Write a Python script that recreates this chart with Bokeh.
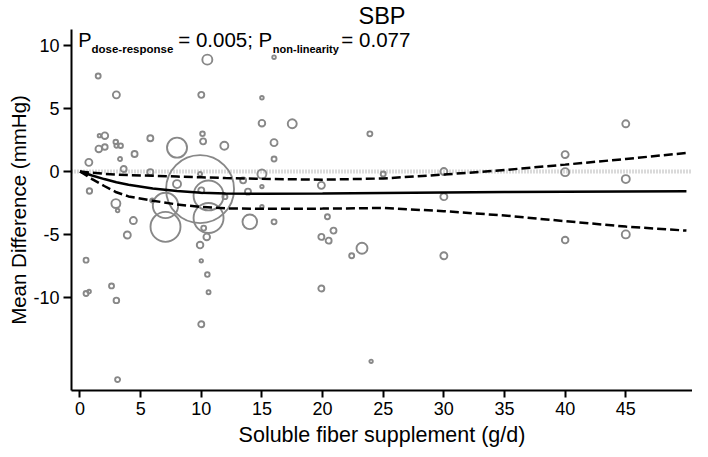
from bokeh.plotting import figure
from bokeh.models import Label, Range1d, FixedTicker, ColumnDataSource
from bokeh.embed import file_html
from bokeh.resources import INLINE
import numpy as np

# study points: dose (g/d), mean difference (mmHg), weight
dose = [1.5, 3.0, 10.5, 10.0, 2.05, 1.6, 1.55, 2.05, 2.95, 3.0,
        3.35, 4.5, 3.3, 0.73, 3.6, 5.8, 0.78, 5.8, 2.96, 3.1,
        4.4, 3.9, 0.5, 0.5, 0.75, 2.6, 3.0, 3.1, 8.0, 9.9,
        7.05, 7.05, 10.6, 10.6, 14.0, 8.0, 5.95, 10.1, 10.15, 11.9,
        13.45, 13.85, 11.95, 10.0, 10.2, 10.45, 9.9, 9.9, 10.0, 10.5,
        10.6, 10.0, 16.0, 15.0, 15.0, 17.5, 23.9, 16.0, 16.0, 15.0,
        15.0, 15.0, 16.0, 19.9, 20.4, 20.9, 19.9, 20.5, 23.25, 22.4,
        19.9, 24.0, 25.0, 30.0, 30.0, 30.0, 45.0, 40.0, 40.0, 45.0,
        45.0, 40.0]
md = [7.6, 6.1, 8.9, 6.1, 2.85, 2.85, 1.8, 1.95, 2.35, 2.05,
      2.05, 1.4, 1.0, 0.73, 0.2, 2.65, -1.55, -0.05, -2.55, -3.1,
      -3.9, -5.05, -7.05, -9.7, -9.55, -9.1, -10.25, -16.55, 1.9, -1.4,
      -2.7, -4.4, -1.9, -3.7, -4.0, -1.0, -2.3, 3.0, 2.4, 2.05,
      -0.7, -1.6, -2.0, -1.5, -4.5, -5.2, -5.85, -0.2, -7.1, -8.2,
      -9.6, -12.15, 9.1, 5.87, 3.85, 3.8, 3.0, 2.3, 1.0, -0.2,
      -1.2, -2.8, -4.0, -1.1, -3.6, -4.7, -5.2, -5.5, -6.1, -6.7,
      -9.3, -15.1, -0.2, 0.0, -2.0, -6.7, 3.8, 1.35, -0.05, -0.6,
      -5.0, -5.45]
weight = [0.62, 1.22, 2.5, 0.9, 1.09, 0.29, 1.09, 0.78, 0.53, 0.4,
          0.53, 0.9, 0.4, 1.22, 0.9, 0.9, 0.73, 0.9, 2.02, 0.32,
          1.22, 1.22, 0.62, 0.62, 0.32, 0.62, 0.78, 0.62, 10, 115.6,
          16.1, 22.5, 22.5, 22.5, 5.33, 1.6, 0.4, 0.53, 0.9, 1.6,
          0.9, 0.9, 0.62, 0.9, 0.62, 1.09, 1.09, 0.4, 0.29, 0.53,
          0.4, 0.9, 0.32, 0.32, 1.09, 2.02, 0.62, 1.22, 0.62, 2.02,
          0.29, 0.29, 0.62, 1.22, 0.62, 0.9, 0.9, 0.9, 3.02, 0.62,
          0.9, 0.29, 0.62, 1.22, 1.22, 1.22, 1.22, 1.22, 1.6, 1.6,
          1.6, 1.09]

# dose-response curve and 95% CI
curve_x = [0, 1, 2, 3, 4, 6, 8, 10, 12, 15, 20, 25, 30, 35, 40, 45, 50]
curve_fit = [0, -0.32, -0.6, -0.85, -1.05, -1.35, -1.55, -1.68, -1.74, -1.77,
             -1.75, -1.71, -1.67, -1.63, -1.6, -1.58, -1.56]
curve_hi = [0, -0.1, -0.18, -0.24, -0.28, -0.34, -0.4, -0.46, -0.52, -0.58,
            -0.65, -0.55, -0.24, 0.12, 0.55, 1.0, 1.48]
curve_lo = [0, -0.6, -1.15, -1.65, -1.98, -2.32, -2.62, -2.82, -2.93, -2.97,
            -2.95, -2.9, -3.15, -3.5, -3.95, -4.38, -4.7]

x_ticks = [0, 5, 10, 15, 20, 25, 30, 35, 40, 45]
y_ticks = [-10, -5, 0, 5, 10]

FONT = "Liberation Sans"

p = figure(width=692, height=449, output_backend="svg", toolbar_location=None,
           x_range=Range1d(-0.7, 50.5), y_range=Range1d(-17.42, 11.3),
           min_border_left=71, min_border_right=0, min_border_top=28,
           min_border_bottom=0, title="SBP")
p.title.align = "center"
p.title.text_font = FONT
p.title.text_font_size = "23.5px"
p.title.text_font_style = "normal"
p.title.text_color = "black"
p.title.standoff = 1
p.outline_line_color = None
p.grid.visible = False
p.background_fill_color = "white"

# zero reference line
p.line([-0.7, 50.5], [0, 0], line_color="#b4b4b4", line_width=4, line_dash="1 2")

src = ColumnDataSource(dict(x=dose, y=md, s=[6.32 * np.sqrt(w) for w in weight]))
p.scatter("x", "y", size="s", source=src, marker="circle", fill_color=None,
          line_color="#888888", line_width=1.9)

p.line(curve_x, curve_fit, line_color="black", line_width=2.5)
p.line(curve_x, curve_hi, line_color="black", line_width=2.5, line_dash="9 4")
p.line(curve_x, curve_lo, line_color="black", line_width=2.5, line_dash="9 4")

for ax in (p.xaxis, p.yaxis):
    ax.axis_line_width = 2
    ax.axis_line_color = "black"
    ax.major_tick_line_width = 2
    ax.major_tick_in = 0
    ax.minor_tick_line_color = None
    ax.major_label_text_font = FONT
    ax.major_label_text_font_size = "18px"
    ax.major_label_text_color = "black"
    ax.axis_label_text_font = FONT
    ax.axis_label_text_font_style = "normal"
    ax.axis_label_text_color = "black"

p.xaxis.axis_label_text_font_size = "21.5px"
p.yaxis.axis_label_text_font_size = "20.5px"
p.xaxis.ticker = FixedTicker(ticks=x_ticks)
p.yaxis.ticker = FixedTicker(ticks=y_ticks)
p.yaxis.major_label_overrides = {t: str(t) for t in y_ticks}
p.xaxis.major_tick_out = 7
p.yaxis.major_tick_out = 8
p.xaxis.major_label_standoff = 4
p.yaxis.major_label_standoff = 4
p.xaxis.axis_label = "Soluble fiber supplement (g/d)"
p.yaxis.axis_label = "Mean Difference (mmHg)"
p.xaxis.axis_label_standoff = 5
p.yaxis.axis_label_standoff = 0

# p-values
p.add_layout(Label(x=-0.14, y=9.55, text="P", text_font=FONT,
                   text_font_size="20px", text_color="black"))
p.add_layout(Label(x=0.95, y=9.27, text="dose-response", text_font=FONT,
                   text_font_size="11.5px", text_font_style="bold", text_color="black"))
p.add_layout(Label(x=8.1, y=9.55, text="= 0.005; P", text_font=FONT,
                   text_font_size="20.5px", text_color="black"))
p.add_layout(Label(x=15.9, y=9.27, text="non-linearity", text_font=FONT,
                   text_font_size="11px", text_font_style="bold", text_color="black"))
p.add_layout(Label(x=21.55, y=9.55, text="= 0.077", text_font=FONT,
                   text_font_size="20.5px", text_color="black"))

open("out.html", "w").write(file_html(p, INLINE))
